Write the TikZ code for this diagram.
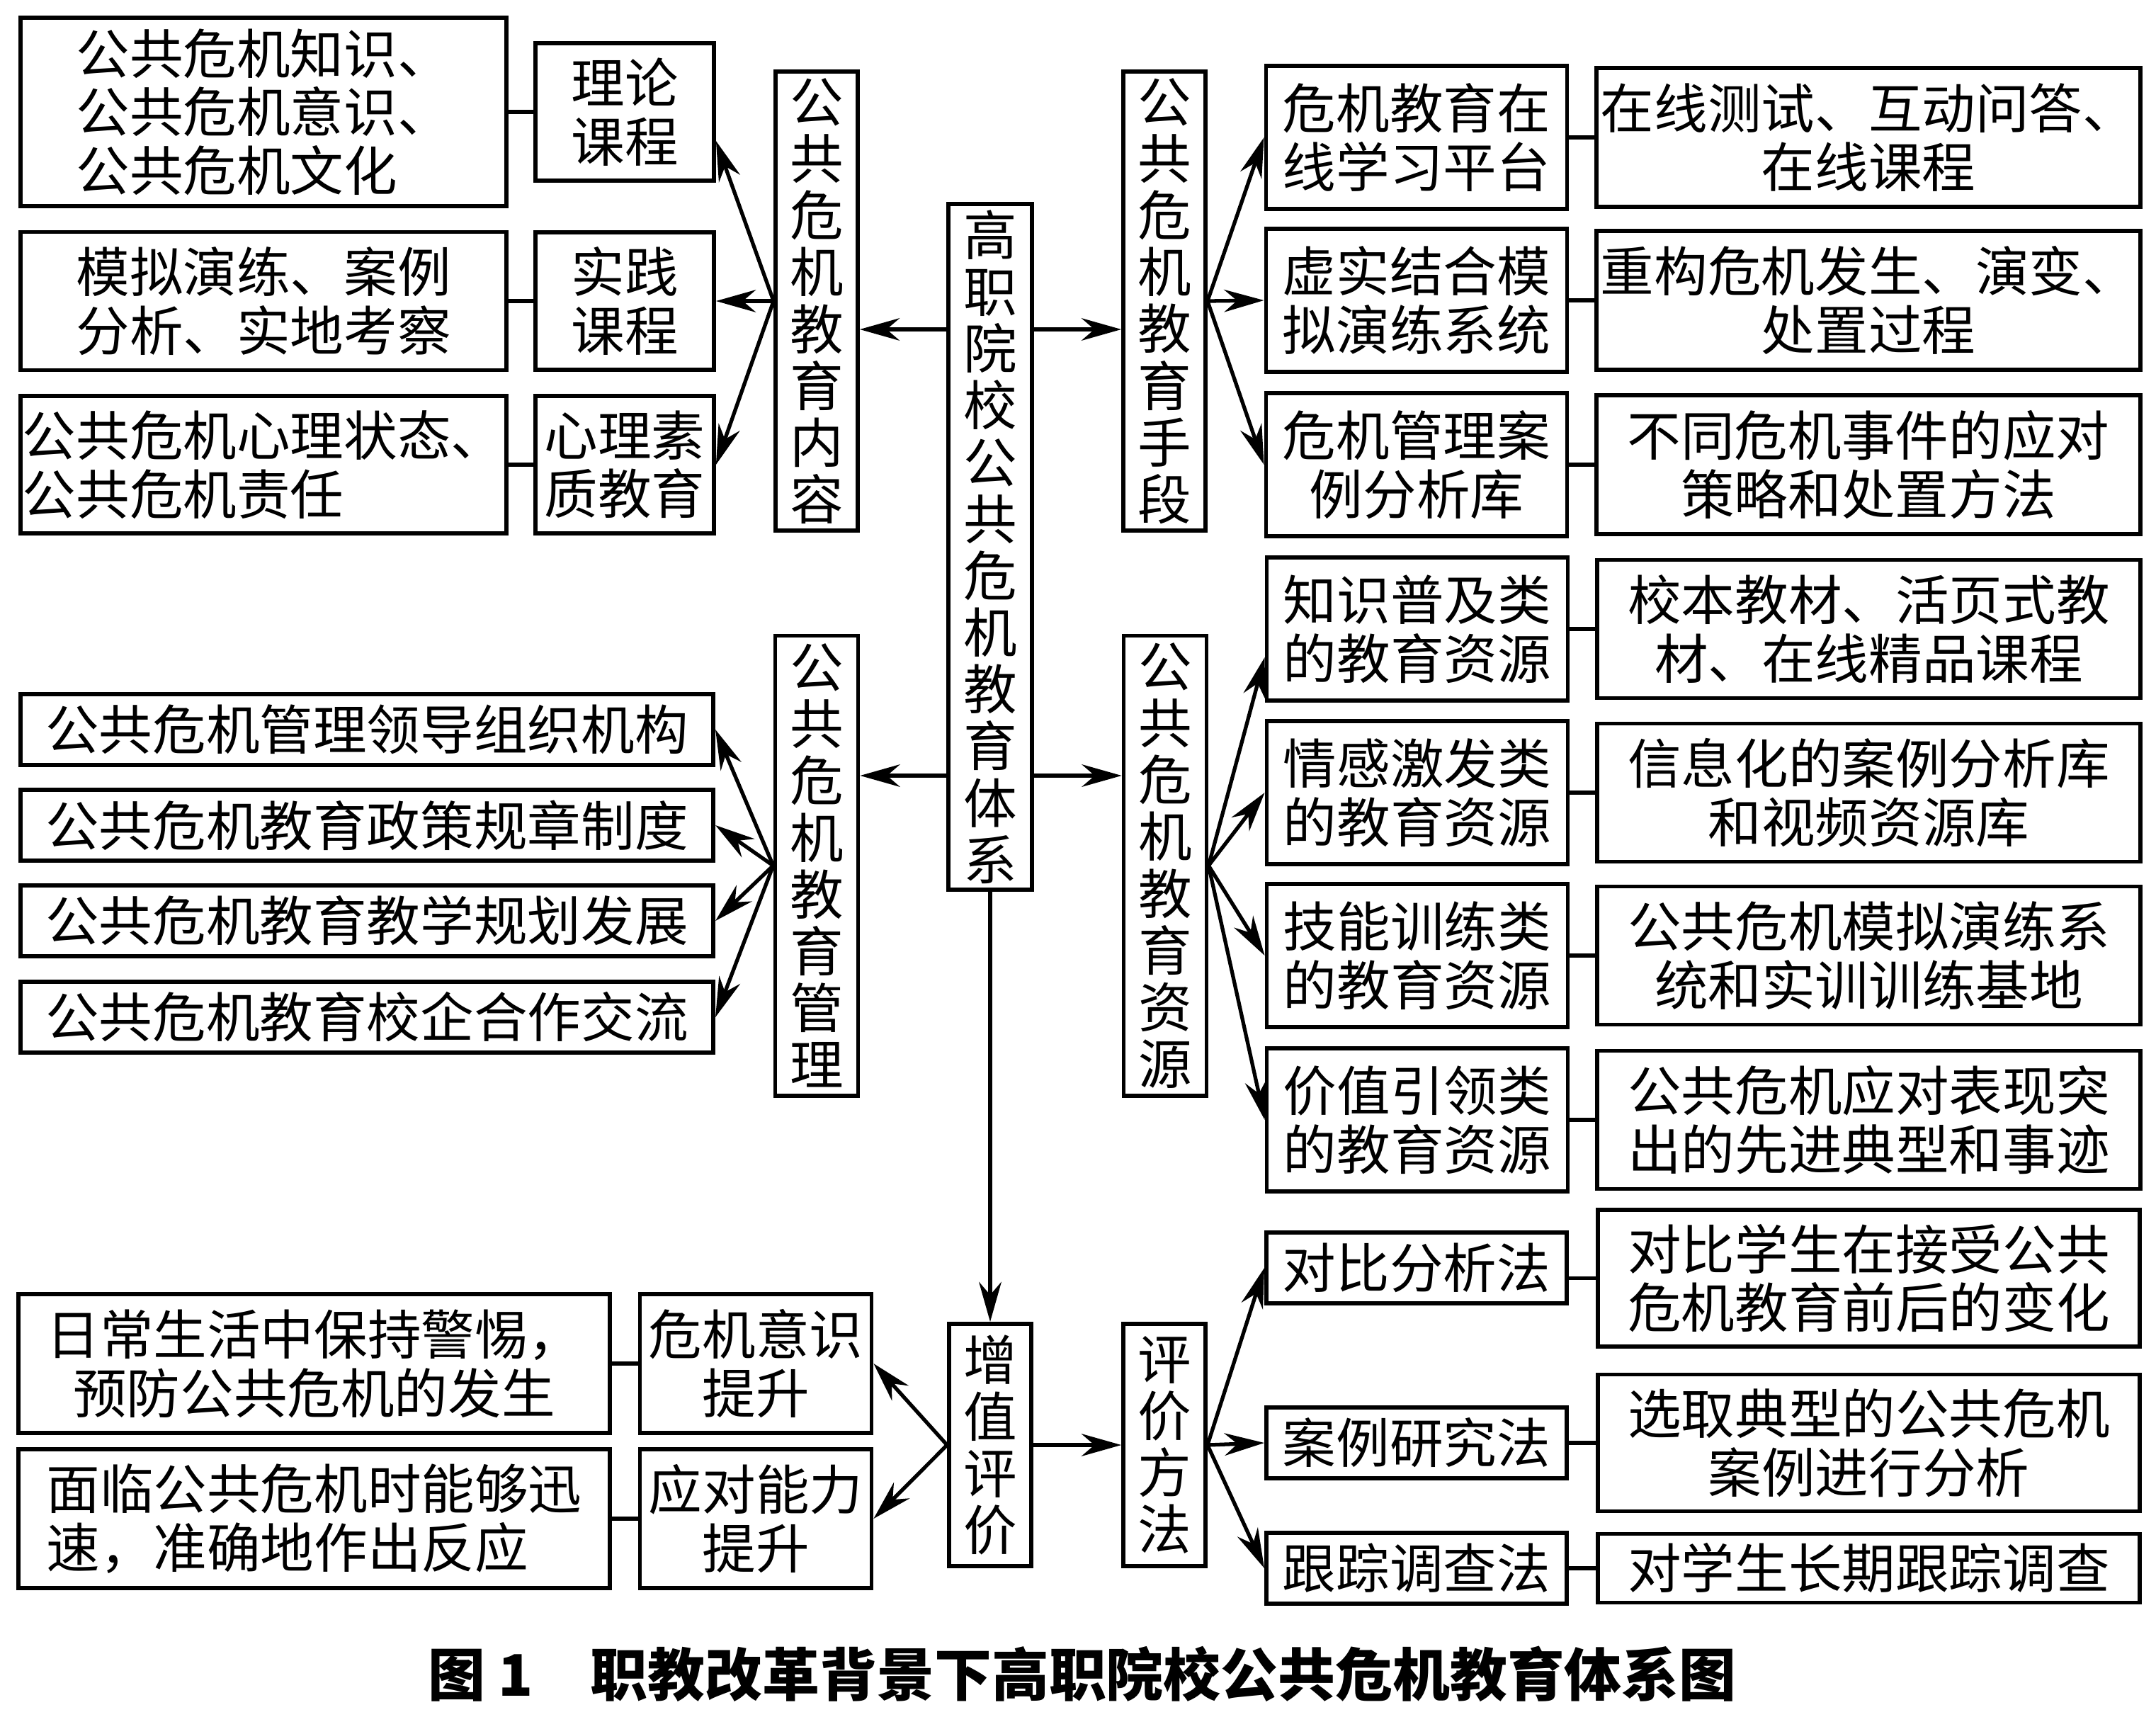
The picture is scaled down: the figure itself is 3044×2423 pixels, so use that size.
\documentclass[tikz,border=0pt]{standalone}
\usepackage{fontspec}
\setmainfont{Noto Sans CJK SC}
\usepackage{tikz}
\usetikzlibrary{arrows.meta,positioning,calc}
\definecolor{ink}{RGB}{0,0,0}
\tikzset{bx/.style={draw=ink,line width=1.6pt,inner sep=0pt,align=center,font=\fontsize{21.5}{23.5}\selectfont},vb/.style={bx,font=\fontsize{21.5}{22.8}\selectfont},flow/.style={-{Stealth[length=16pt,width=9pt]},line width=1.5pt,draw=ink},link/.style={line width=1.6pt,draw=ink}}

\begin{document}
\begin{tikzpicture}[x=0.01cm,y=-0.01cm]
\useasboundingbox (0,0) rectangle (3044,2423);
\node[vb,minimum width=1.18cm,minimum height=9.68cm] (zhongxin) at (1398,772) {高\\职\\院\\校\\公\\共\\危\\机\\教\\育\\体\\系};
\node[vb,minimum width=1.16cm,minimum height=6.48cm] (neirong) at (1153,425) {公\\共\\危\\机\\教\\育\\内\\容};
\node[vb,minimum width=1.16cm,minimum height=6.48cm] (shouduan) at (1644,425) {公\\共\\危\\机\\教\\育\\手\\段};
\node[vb,minimum width=1.17cm,minimum height=6.49cm] (guanli) at (1153,1222) {公\\共\\危\\机\\教\\育\\管\\理};
\node[vb,minimum width=1.17cm,minimum height=6.49cm] (ziyuan) at (1645,1222) {公\\共\\危\\机\\教\\育\\资\\源};
\node[vb,minimum width=1.16cm,minimum height=3.42cm] (zengzhi) at (1398,2040) {增\\值\\评\\价};
\node[vb,minimum width=1.16cm,minimum height=3.42cm] (pingjia) at (1644,2040) {评\\价\\方\\法};
\node[bx,minimum width=2.52cm,minimum height=1.94cm] (lilun) at (882,158) {理论\\课程};
\node[bx,minimum width=2.52cm,minimum height=1.94cm] (shijian) at (882,425) {实践\\课程};
\node[bx,minimum width=2.52cm,minimum height=1.94cm] (xinli) at (882,656) {心理素\\质教育};
\node[bx,align=left,minimum width=6.86cm,minimum height=2.66cm,left=0.35cm of lilun] (k1) {公共危机知识、\\公共危机意识、\\公共危机文化};
\node[bx,minimum width=6.86cm,minimum height=1.95cm,left=0.35cm of shijian] (k2) {模拟演练、案例\\分析、实地考察};
\node[bx,align=left,minimum width=6.86cm,minimum height=1.94cm,left=0.35cm of xinli] (k3) {公共危机心理状态、\\公共危机责任};
\node[bx,minimum width=4.25cm,minimum height=2.02cm] (zaixian) at (2000,194) {危机教育在\\线学习平台};
\node[bx,minimum width=4.25cm,minimum height=2.02cm] (xushi) at (2000,424) {虚实结合模\\拟演练系统};
\node[bx,minimum width=4.25cm,minimum height=2.02cm] (anliku) at (2000,656) {危机管理案\\例分析库};
\node[bx,minimum width=7.67cm,minimum height=1.96cm,right=0.36cm of zaixian] (r1) {在线测试、互动问答、\\在线课程};
\node[bx,minimum width=7.67cm,minimum height=1.96cm,right=0.36cm of xushi] (r2) {重构危机发生、演变、\\处置过程};
\node[bx,minimum width=7.67cm,minimum height=1.96cm,right=0.36cm of anliku] (r3) {不同危机事件的应对\\策略和处置方法};
\node[bx,minimum width=9.78cm,minimum height=1.00cm] (m1) at (518,1030) {公共危机管理领导组织机构};
\node[bx,minimum width=9.78cm,minimum height=1.00cm] (m2) at (518,1165) {公共危机教育政策规章制度};
\node[bx,minimum width=9.78cm,minimum height=1.00cm] (m3) at (518,1300) {公共危机教育教学规划发展};
\node[bx,minimum width=9.78cm,minimum height=1.00cm] (m4) at (518,1436) {公共危机教育校企合作交流};
\node[bx,minimum width=4.25cm,minimum height=2.02cm] (zs1) at (2001,888) {知识普及类\\的教育资源};
\node[bx,minimum width=4.25cm,minimum height=2.02cm] (zs2) at (2001,1119) {情感激发类\\的教育资源};
\node[bx,minimum width=4.25cm,minimum height=2.02cm] (zs3) at (2001,1349) {技能训练类\\的教育资源};
\node[bx,minimum width=4.25cm,minimum height=2.02cm] (zs4) at (2001,1581) {价值引领类\\的教育资源};
\node[bx,minimum width=7.66cm,minimum height=1.95cm,right=0.36cm of zs1] (rs1) {校本教材、活页式教\\材、在线精品课程};
\node[bx,minimum width=7.66cm,minimum height=1.95cm,right=0.36cm of zs2] (rs2) {信息化的案例分析库\\和视频资源库};
\node[bx,minimum width=7.66cm,minimum height=1.95cm,right=0.36cm of zs3] (rs3) {公共危机模拟演练系\\统和实训训练基地};
\node[bx,minimum width=7.66cm,minimum height=1.95cm,right=0.36cm of zs4] (rs4) {公共危机应对表现突\\出的先进典型和事迹};
\node[bx,minimum width=4.24cm,minimum height=1.00cm] (duibi) at (2000,1790) {对比分析法};
\node[bx,minimum width=4.24cm,minimum height=1.00cm] (anli) at (2000,2037) {案例研究法};
\node[bx,minimum width=4.24cm,minimum height=1.00cm] (genzong) at (2000,2214) {跟踪调查法};
\node[bx,minimum width=7.65cm,minimum height=1.93cm,right=0.38cm of duibi,yshift=-0.145cm] (rd1) {对比学生在接受公共\\危机教育前后的变化};
\node[bx,minimum width=7.65cm,minimum height=1.93cm,right=0.38cm of anli] (rd2) {选取典型的公共危机\\案例进行分析};
\node[bx,minimum width=7.65cm,minimum height=0.97cm,right=0.38cm of genzong] (rd3) {对学生长期跟踪调查};
\node[bx,minimum width=3.27cm,minimum height=1.96cm] (yishi) at (1067,1925) {危机意识\\提升};
\node[bx,minimum width=3.27cm,minimum height=1.96cm] (yingdui) at (1067,2144) {应对能力\\提升};
\node[bx,minimum width=8.34cm,minimum height=1.96cm,left=0.37cm of yishi] (richang) {日常生活中保持警惕，\\预防公共危机的发生};
\node[bx,align=left,minimum width=8.34cm,minimum height=1.96cm,left=0.37cm of yingdui] (mianlin) {面临公共危机时能够迅\\速，准确地作出反应};
\node[font=\fontsize{23}{26}\selectfont\bfseries] (caption) at (1528,2363) {图 1\quad 职教改革背景下高职院校公共危机教育体系图};
\coordinate (upper) at (1398,465);
\coordinate (lower) at (1398,1095);
\draw[flow] (zhongxin.west|-upper)--(neirong.east|-upper);\draw[flow] (zhongxin.east|-upper)--(shouduan.west|-upper);
\draw[flow] (zhongxin.west|-lower)--(guanli.east|-lower);\draw[flow] (zhongxin.east|-lower)--(ziyuan.west|-lower);
\draw[flow] (zhongxin)--(zengzhi);\draw[flow] (zengzhi)--(pingjia);
\draw[flow] (neirong.west)--($(lilun.east)+(0,41)$);\draw[flow] (neirong.west)--(shijian.east);\draw[flow] (neirong.west)--(xinli.east);
\draw[flow] (shouduan.east)--(zaixian.west);\draw[flow] (shouduan.east)--(xushi.west);\draw[flow] (shouduan.east)--(anliku.west);
\foreach \t in {m1,m2,m3,m4} \draw[flow] (guanli.west)--(\t.east);
\draw[flow] (ziyuan.east)--($(zs1.west)+(0,40)$);\foreach \t in {zs2,zs3,zs4} \draw[flow] (ziyuan.east)--(\t.west);
\draw[flow] (zengzhi.west)--(yishi.east);\draw[flow] (zengzhi.west)--(yingdui.east);
\foreach \t in {duibi,anli,genzong} \draw[flow] (pingjia.east)--(\t.west);
\draw[link] (k1)--(lilun);\draw[link] (k2)--(shijian);\draw[link] (k3)--(xinli);
\draw[link] (zaixian)--(r1);\draw[link] (xushi)--(r2);\draw[link] (anliku)--(r3);
\draw[link] (zs1)--(rs1);\draw[link] (zs2)--(rs2);\draw[link] (zs3)--(rs3);\draw[link] (zs4)--(rs4);
\draw[link] (rd1.west)--(rd1.west-|duibi.east);\draw[link] (anli)--(rd2);\draw[link] (genzong)--(rd3);
\draw[link] (richang)--(yishi);\draw[link] (mianlin)--(yingdui);
\end{tikzpicture}
\end{document}
